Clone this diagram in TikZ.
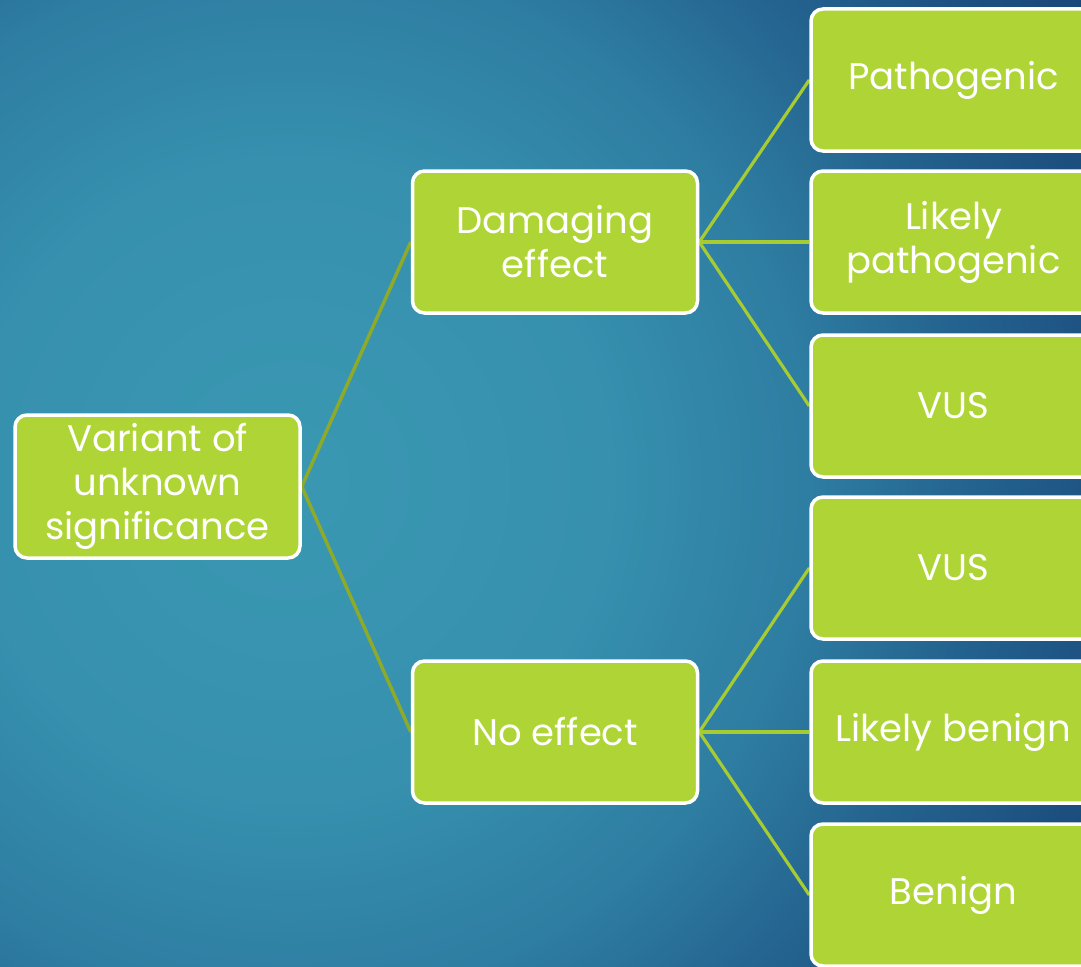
\documentclass[tikz,border=0pt]{standalone}
\usepackage{fontspec}
\setmainfont{Poppins}
\definecolor{bgA}{HTML}{3A98B2}
\definecolor{bgB}{HTML}{3690AE}
\definecolor{bgC}{HTML}{2E7DA2}
\definecolor{bgD}{HTML}{24638F}
\definecolor{bgE}{HTML}{1C4F80}
\definecolor{bgF}{HTML}{174274}
\definecolor{boxgreen}{HTML}{AED535}
\definecolor{olive}{HTML}{8DAA2A}
\definecolor{lime}{HTML}{A6CB33}
\pgfdeclareradialshading{bgshade}{\pgfpoint{0bp}{0bp}}{color(0bp)=(bgA); color(8bp)=(bgB); color(13bp)=(bgC); color(17bp)=(bgD); color(21bp)=(bgE); color(25bp)=(bgF); color(50bp)=(bgF)}
\pgfdeclarelayer{bglayer}
\pgfdeclarelayer{linelayer}
\pgfsetlayers{bglayer,linelayer,main}
\begin{document}
\begin{tikzpicture}[x=1pt,y=-1pt,
  box/.style={draw=white, line width=3.5pt, fill=boxgreen, rounded corners=12pt,
    minimum width=285pt, minimum height=142pt, text=white,
    font=\fontsize{37}{44}\selectfont, align=center, inner sep=0pt},
  rootline/.style={draw=olive, line width=3.5pt},
  leafline/.style={draw=lime, line width=3.2pt}]
\useasboundingbox (0,0) rectangle (1081,966);
\clip (0,0) rectangle (1081,966);
\begin{pgfonlayer}{bglayer}
\path[shading=bgshade] (290,480) circle[radius=1000pt];
\end{pgfonlayer}
\node[box, minimum height=143pt] (root) at (157.5,486.5) {Variant of\\unknown\\significance};
\node[box] (dam) at (555,242) {Damaging\\effect};
\node[box] (noe) at (555,732) {No effect};
\node[box] (r1) at (953.5,80) {Pathogenic};
\node[box] (r2) at (953.5,242) {Likely\\pathogenic};
\node[box] (r3) at (953.5,406) {VUS};
\node[box] (r4) at (953.5,568) {VUS};
\node[box] (r5) at (953.5,732) {Likely benign};
\node[box] (r6) at (953.5,895) {Benign};
\begin{pgfonlayer}{linelayer}
\draw[rootline] (root.east) -- (dam.west);
\draw[rootline] (root.east) -- (noe.west);
\draw[leafline] (dam.east) -- (r1.west);
\draw[leafline] (dam.east) -- (r2.west);
\draw[leafline] (dam.east) -- (r3.west);
\draw[leafline] (noe.east) -- (r4.west);
\draw[leafline] (noe.east) -- (r5.west);
\draw[leafline] (noe.east) -- (r6.west);
\end{pgfonlayer}
\end{tikzpicture}
\end{document}
